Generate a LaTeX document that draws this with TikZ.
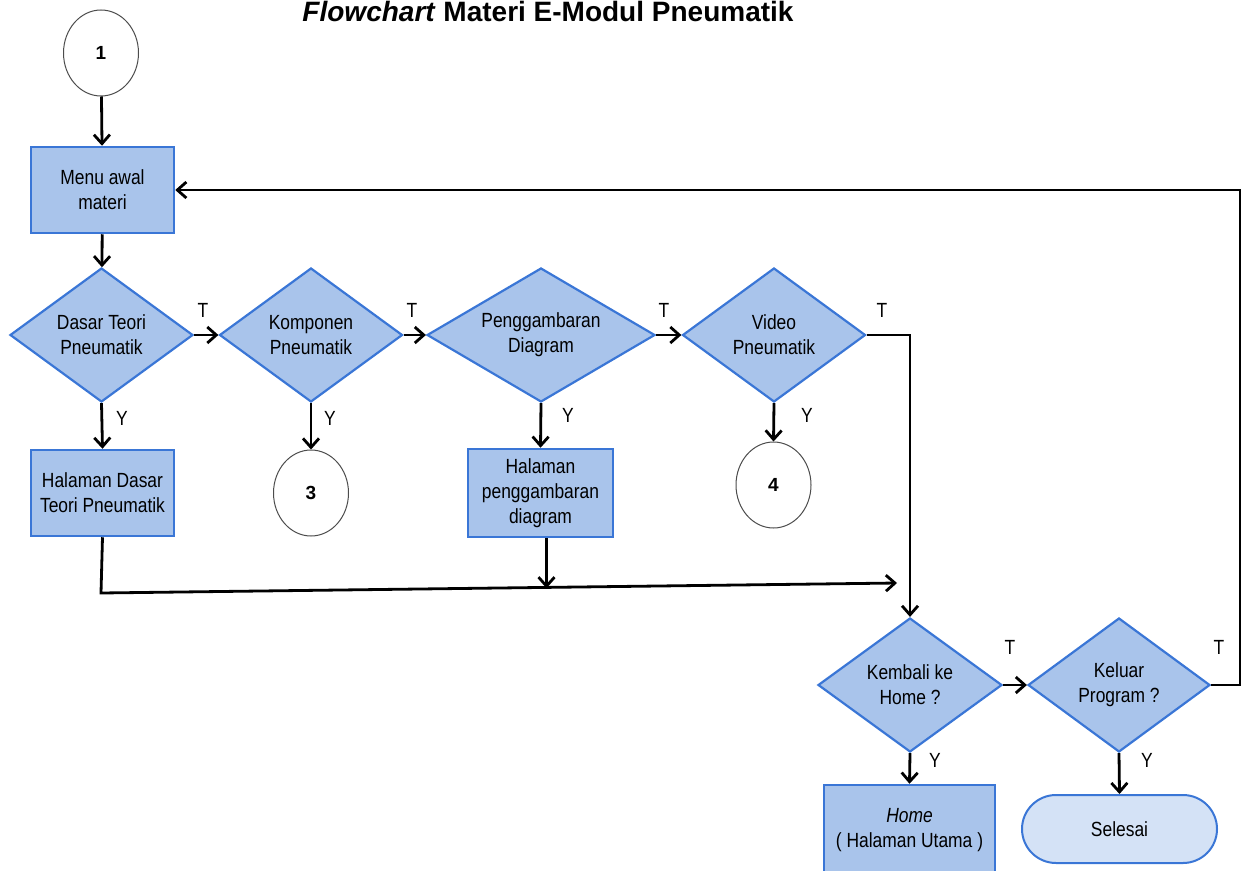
\documentclass[tikz,border=0pt]{standalone}
\usepackage{fontspec}
\setmainfont{Liberation Sans}
\newfontfamily\flowfont{Liberation Sans}[FakeStretch=0.85]
\usetikzlibrary{shapes.geometric,arrows.meta}

\definecolor{boxfill}{RGB}{169,196,235}
\definecolor{boxdraw}{RGB}{58,118,214}
\definecolor{endfill}{RGB}{212,226,246}

\begin{document}
\begin{tikzpicture}[x=1pt,y=-1pt,
  every node/.style={font=\flowfont\fontsize{20.5}{25}\selectfont, align=center, inner sep=0pt},
  proc/.style={rectangle, draw=boxdraw, fill=boxfill, line width=2.5pt,
    minimum width=143pt, minimum height=86pt},
  dec/.style={diamond, draw=boxdraw, fill=boxfill, line width=2.2pt, aspect=1.4,
    minimum width=183pt, minimum height=134pt},
  conn/.style={ellipse, draw=black!70, line width=1pt, fill=white,
    minimum width=75pt, minimum height=86pt, font=\bfseries\fontsize{19}{20}\selectfont},
  term/.style={rectangle, rounded corners=34pt, draw=boxdraw, fill=endfill,
    line width=2pt, minimum width=195pt, minimum height=68pt},
  arr/.style={-{Straight Barb[length=9pt,width=16pt]}, line width=2.8pt},
  lbl/.style={font=\flowfont\fontsize{20.5}{22}\selectfont}
]
\useasboundingbox (0,0) rectangle (1247,870);
\clip (0,0) rectangle (1247,870);

% title
\node[font=\bfseries\fontsize{28}{30}\selectfont, anchor=base] (title) at (548,21.5)
  {\textit{Flowchart} Materi E-Modul Pneumatik};

% nodes
\node[conn] (c1) at (101,53) {1};
\node[proc] (menu) at (102.5,190) {Menu awal\\materi};
\node[dec] (d1) at (101.5,335) {Dasar Teori\\Pneumatik};
\node[dec] (d2) at (311,335) {Komponen\\Pneumatik};
\node[dec, minimum width=228pt] (d3) at (541,335) {Penggambaran\\Diagram};
\node[dec] (d4) at (774,335) {Video\\Pneumatik};
\node[proc] (h1) at (102.5,493) {Halaman Dasar\\Teori Pneumatik};
\node[conn] (c3) at (311,493) {3};
\node[proc, minimum width=145pt, minimum height=88pt] (h3) at (540.5,493)
  {Halaman\\penggambaran\\diagram};
\node[conn] (c4) at (773.5,485) {4};
\node[dec, minimum width=184pt] (kem) at (910,685) {Kembali ke\\Home ?};
\node[dec, minimum width=182pt] (kel) at (1119,685) {Keluar\\Program ?};
\node[proc, minimum width=171pt, minimum height=90pt] (home) at (909.5,830)
  {\textit{Home}\\( Halaman Utama )};
\node[term] (sel) at (1119.5,829) {Selesai};

% branch labels
\node[lbl] (t1) at (203,310) {T};
\node[lbl] (t2) at (412,310) {T};
\node[lbl] (t3) at (664,310) {T};
\node[lbl] (t4) at (882,310) {T};
\node[lbl] (t5) at (1010,647) {T};
\node[lbl] (t6) at (1219,647) {T};
\node[lbl] (y1) at (122,418) {Y};
\node[lbl] (y2) at (330,418) {Y};
\node[lbl] (y3) at (568,415) {Y};
\node[lbl] (y4) at (807,415) {Y};
\node[lbl] (y5) at (935,760) {Y};
\node[lbl] (y6) at (1147,760) {Y};

% connectors
\draw[arr] (c1) -- (menu);
\draw[arr] (menu) -- (d1);
\draw[arr] (d1.east) -- (d2.west);
\draw[arr] (d2.east) -- (d3.west);
\draw[arr] (d3.east) -- (d4.west);
\draw[arr] (d4.east) -| (kem.north);
\draw[arr] (d1.south) -- (h1.north);
\draw[arr] (d2.south) -- (c3.north);
\draw[arr] (d3.south) -- (h3.north);
\draw[arr] (d4.south) -- (c4.north);
\coordinate (jl) at (101,593);
\coordinate (jr) at (897,583);
\draw[arr] (h1.south) -- (jl) -- (jr);
\draw[arr] ([xshift=6pt]h3.south) -- ++(0,50);
\draw[arr] (kem.east) -- (kel.west);
\coordinate (rtop) at (1240,190);
\draw[arr] (kel.east) -| (rtop) -- (menu.east);
\draw[arr] (kem.south) -- (home.north);
\draw[arr] (kel.south) -- (sel.north);
\end{tikzpicture}
\end{document}
